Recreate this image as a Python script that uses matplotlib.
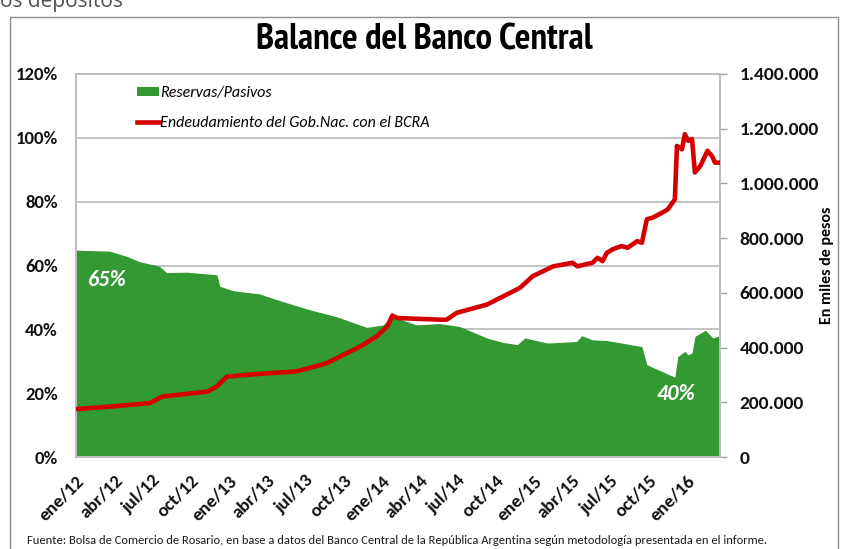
import matplotlib
matplotlib.use('Agg')
import matplotlib.pyplot as plt
from matplotlib.ticker import FuncFormatter, FixedLocator
from matplotlib.patches import Rectangle, Patch
from matplotlib.lines import Line2D
import pandas as pd

# ---------------- data ----------------
reservas_fechas = [
    '2012-01-01', '2012-03-21', '2012-05-01', '2012-06-01', '2012-07-18', '2012-08-05',
    '2012-09-22', '2012-12-03', '2012-12-10', '2013-01-11', '2013-03-15', '2013-04-25',
    '2013-07-06', '2013-09-17', '2013-11-27', '2014-01-05', '2014-01-27', '2014-03-26',
    '2014-05-20', '2014-07-07', '2014-09-10', '2014-10-19', '2014-11-22', '2014-12-10',
    '2015-02-02', '2015-03-03', '2015-04-13', '2015-04-25', '2015-05-21', '2015-06-24',
    '2015-09-16', '2015-09-28', '2015-12-04', '2015-12-11', '2015-12-28', '2016-01-05',
    '2016-01-14', '2016-01-21', '2016-02-15', '2016-03-04', '2016-03-21',
]
reservas_pct = [
    64.8, 64.5, 62.9, 61.2, 59.8, 57.8,
    57.9, 57.1, 53.5, 52.1, 51.1, 49.3,
    46.4, 43.9, 40.6, 41.4, 44.0, 41.4,
    41.8, 40.9, 37.3, 35.9, 35.2, 37.3,
    35.7, 35.9, 36.2, 38.0, 36.7, 36.5,
    34.6, 28.9, 25.0, 31.5, 33.1, 32.0,
    32.6, 37.8, 39.7, 37.3, 38.0,
]

deuda_fechas = [
    '2012-01-01', '2012-03-21', '2012-06-25', '2012-07-26', '2012-11-10', '2012-12-03',
    '2012-12-27', '2013-03-15', '2013-06-12', '2013-08-23', '2013-11-11', '2013-12-21',
    '2014-01-15', '2014-01-27', '2014-02-08', '2014-05-20', '2014-06-06', '2014-06-30',
    '2014-09-10', '2014-11-28', '2014-12-29', '2015-02-16', '2015-03-03', '2015-04-03',
    '2015-04-15', '2015-05-21', '2015-06-02', '2015-06-14', '2015-06-24', '2015-07-08',
    '2015-07-29', '2015-08-13', '2015-09-05', '2015-09-16', '2015-09-28', '2015-10-12',
    '2015-11-06', '2015-11-17', '2015-12-04', '2015-12-09', '2015-12-21', '2015-12-28',
    '2016-01-05', '2016-01-14', '2016-01-21', '2016-02-03', '2016-02-20', '2016-03-02',
    '2016-03-09', '2016-03-21',
]
deuda_miles = [
    175000, 184000, 197000, 221000, 239000, 258000,
    294000, 304000, 313000, 343000, 404000, 441000,
    478000, 517000, 508000, 502000, 502000, 527000,
    557000, 618000, 661000, 697000, 701000, 710000,
    697000, 710000, 728000, 716000, 746000, 759000,
    771000, 765000, 789000, 783000, 869000, 875000,
    895000, 905000, 942000, 1137000, 1125000, 1180000,
    1156000, 1162000, 1040000, 1064000, 1119000, 1100000,
    1076000, 1076000,
]

x_tick_fechas = [
    '2012-01-01', '2012-04-01', '2012-07-01', '2012-10-01',
    '2013-01-01', '2013-04-01', '2013-07-01', '2013-10-01',
    '2014-01-01', '2014-04-01', '2014-07-01', '2014-10-01',
    '2015-01-01', '2015-04-01', '2015-07-01', '2015-10-01',
    '2016-01-01',
]
x_tick_labels = [
    'ene/12', 'abr/12', 'jul/12', 'oct/12',
    'ene/13', 'abr/13', 'jul/13', 'oct/13',
    'ene/14', 'abr/14', 'jul/14', 'oct/14',
    'ene/15', 'abr/15', 'jul/15', 'oct/15',
    'ene/16',
]
left_ticks = [0, 20, 40, 60, 80, 100, 120]
right_ticks = [0, 200000, 400000, 600000, 800000, 1000000, 1200000, 1400000]

titulo = 'Balance del Banco Central'
serie1 = 'Reservas/Pasivos'
serie2 = 'Endeudamiento del Gob.Nac. con el BCRA'
eje_der = 'En miles de pesos'
fuente = ('Fuente: Bolsa de Comercio de Rosario, en base a datos del Banco Central de la '
          'República Argentina según metodología presentada en el informe.')

# ---------------- style ----------------
W, H = 842, 549
GREEN = '#339933'
RED = '#D40000'
GRID = '#BEBEBE'
BODY = ['Carlito', 'Lato', 'DejaVu Sans']
TITLEF = ['PT Sans Narrow', 'Roboto Condensed', 'DejaVu Sans']

fig = plt.figure(figsize=(W / 100, H / 100), dpi=100)
fig.patch.set_facecolor('white')

def fx(px):
    return px / W

def fy(py):
    return 1 - py / H

# outer frame
fig.patches.append(Rectangle((fx(10), -0.01), fx(838) - fx(10), fy(17) + 0.01,
                             transform=fig.transFigure, fill=False,
                             edgecolor='#8C8C8C', lw=1.0))
# cut-off text from the page above the chart
fig.text(fx(0), fy(7), 'os depósitos', fontsize=15, color='#505050',
         family=['Open Sans', 'DejaVu Sans'], ha='left', va='baseline')

ax = fig.add_axes([fx(76), fy(457), fx(720) - fx(76), fy(74) - fy(457)])
ax2 = ax.twinx()

r_dates = pd.to_datetime(reservas_fechas)
d_dates = pd.to_datetime(deuda_fechas)

ax.fill_between(r_dates, 0, reservas_pct, color=GREEN, lw=0, zorder=2)
ax2.plot(d_dates, deuda_miles, color=RED, lw=3.3, solid_joinstyle='round',
         solid_capstyle='butt', zorder=3)

ax.set_xlim(pd.Timestamp(reservas_fechas[0]), pd.Timestamp(reservas_fechas[-1]))
ax.set_ylim(0, 120)
ax2.set_ylim(0, 1400000)

ax.yaxis.set_major_locator(FixedLocator(left_ticks))
ax.yaxis.set_major_formatter(FuncFormatter(lambda v, p: f'{int(v)}%'))
ax2.yaxis.set_major_locator(FixedLocator(right_ticks))
ax2.yaxis.set_major_formatter(FuncFormatter(lambda v, p: f'{int(v):,}'.replace(',', '.')))

ax.set_xticks(pd.to_datetime(x_tick_fechas))
ax.set_xticklabels(x_tick_labels)

ax.yaxis.grid(True, color=GRID, lw=1.3)
ax.set_axisbelow(True)
for a in (ax, ax2):
    for s in a.spines.values():
        s.set_color(GRID)
        s.set_linewidth(1.3)

ax.tick_params(axis='y', length=0, pad=13, labelsize=13.5, labelcolor='#111111')
ax.tick_params(axis='x', length=0, pad=11, labelsize=13.5, labelcolor='#111111')
ax2.tick_params(axis='y', length=5, width=1, color='#A0A0A0', pad=9,
                labelsize=14, labelcolor='#111111')
for lab in ax.get_yticklabels() + ax2.get_yticklabels():
    lab.set_family(BODY)
    lab.set_fontweight('bold')
for lab in ax.get_xticklabels():
    lab.set_family(BODY)
    lab.set_fontweight('bold')
    lab.set_rotation(45)
    lab.set_ha('right')
    lab.set_va('top')
    lab.set_rotation_mode('anchor')

ax2.set_ylabel(eje_der, fontsize=11.5, fontweight='bold', family=BODY, labelpad=1)

# title
fig.text(fx(424), fy(40), titulo, fontsize=26.5, fontweight='bold',
         family=TITLEF, ha='center', va='center')

# annotations
ax.text(pd.Timestamp('2012-03-15'), 55.5, '65%', color='white', fontsize=16,
        fontweight='bold', fontstyle='italic', family=BODY,
        ha='center', va='center', zorder=4)
ax.text(pd.Timestamp('2015-12-07'), 19.8, '40%', color='white', fontsize=16,
        fontweight='bold', fontstyle='italic', family=BODY,
        ha='center', va='center', zorder=4)

# legend
handles = [Patch(facecolor=GREEN, edgecolor='none'),
           Line2D([0], [0], color=RED, lw=3.3)]
fig.legend(handles, [serie1, serie2], loc='upper left',
           bbox_to_anchor=(fx(137), fy(86)), frameon=False,
           prop={'family': BODY, 'style': 'italic', 'size': 11.5},
           handlelength=1.35, handleheight=0.55, handletextpad=0.12, labelspacing=1.0,
           borderaxespad=0, borderpad=0)

# source
fig.text(fx(27), fy(540), fuente, fontsize=9.0, color='#1A1A1A',
         family=BODY, ha='left', va='center')

fig.savefig('out.png', dpi=100, facecolor='white')
